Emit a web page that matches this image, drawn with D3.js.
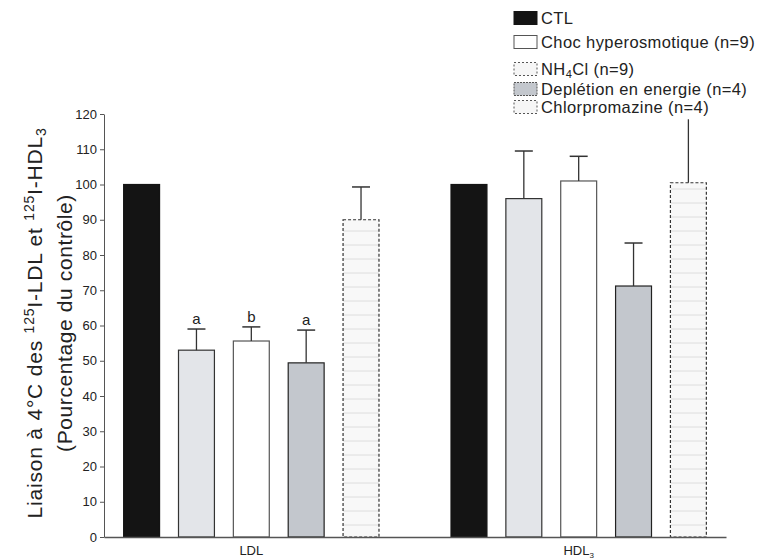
<!DOCTYPE html>
<html>
<head>
<meta charset="utf-8">
<script src="https://cdn.jsdelivr.net/npm/d3@7"></script>
<style>
  body { margin: 0; background: #fff; }
  svg { font-family: "Liberation Sans", Arial, sans-serif; }
  .axis text { font-size: 13px; fill: #222; }
  .axis path, .axis line { stroke: #555; }
</style>
</head>
<body>
<svg id="chart" width="764" height="559"></svg>
<script>
// data
const groups = ["LDL", "HDL3"];
const series = ["CTL", "Choc hyperosmotique (n=9)", "NH4Cl (n=9)", "Deplétion en energie (n=4)", "Chlorpromazine (n=4)"];
const ldlValues = [100, 53, 55.6, 49.4, 90];
const ldlErrors = [0, 6, 4, 9.3, 9.3];
const hdlValues = [100, 96, 101, 71.2, 100.5];
const hdlErrors = [0, 13.5, 7, 12.2, 18];
const ldlLetters = ["", "a", "b", "a", ""];
const hdlLetters = ["", "", "", "", ""];
const yTicks = [0, 10, 20, 30, 40, 50, 60, 70, 80, 90, 100, 110, 120];

const rows = [];
groups.forEach((g, gi) => {
  const vals = gi === 0 ? ldlValues : hdlValues;
  const errs = gi === 0 ? ldlErrors : hdlErrors;
  const lets = gi === 0 ? ldlLetters : hdlLetters;
  series.forEach((s, si) => rows.push({group: g, series: s, si: si, value: vals[si], err: errs[si], letter: lets[si]}));
});

// look of each bar, in drawing order
const barFill = ["#141414", "#e3e5e9", "#ffffff", "#c3c7cd", "#f7f7f7"];
const barStroke = ["#141414", "#333", "#555", "#222", "#333"];
const barDash = [null, null, null, null, "3,2"];
const legendFill = ["#141414", "#ffffff", "#f6f6f6", "#c3c7cd", "#f6f6f6"];
const legendDash = [null, null, "2,2", "2,1", "2,2"];

const svg = d3.select("#chart");
const defs = svg.append("defs");
const pat = defs.append("pattern")
  .attr("id", "hlines")
  .attr("patternUnits", "userSpaceOnUse")
  .attr("width", 36).attr("height", 14);
pat.append("rect").attr("width", 36).attr("height", 14).attr("fill", "#f8f8f8");
pat.append("line").attr("x1", 0).attr("x2", 36).attr("y1", 7).attr("y2", 7)
  .attr("stroke", "#d6d6d6").attr("stroke-width", 0.8);

const x0 = d3.scaleBand().domain(groups).range([104, 726]).paddingInner(0.22).paddingOuter(0.06);
const x1 = d3.scaleBand().domain(d3.range(series.length)).range([0, x0.bandwidth()]).paddingInner(0.345).paddingOuter(0);
const y = d3.scaleLinear().domain([0, 120]).range([537, 114]);

// y axis
svg.append("g")
  .attr("class", "axis")
  .attr("transform", "translate(104,0)")
  .call(d3.axisLeft(y).tickValues(yTicks).tickSize(4).tickSizeOuter(0).tickPadding(3));

// bars
const bars = svg.append("g").selectAll("g")
  .data(rows)
  .join("g")
  .attr("transform", d => `translate(${x0(d.group) + x1(d.si)},0)`);

bars.append("rect")
  .attr("x", 0)
  .attr("y", d => y(d.value))
  .attr("width", x1.bandwidth())
  .attr("height", d => y(0) - y(d.value))
  .attr("fill", d => d.si === 4 ? "url(#hlines)" : barFill[d.si])
  .attr("stroke", d => barStroke[d.si])
  .attr("stroke-width", 1.2)
  .attr("stroke-dasharray", d => barDash[d.si]);

const eb = bars.filter(d => d.err > 0);
eb.append("line")
  .attr("x1", x1.bandwidth() / 2).attr("x2", x1.bandwidth() / 2)
  .attr("y1", d => y(d.value)).attr("y2", d => y(d.value + d.err))
  .attr("stroke", "#333").attr("stroke-width", 1.3);
eb.filter(d => !(d.group === "HDL3" && d.si === 4)).append("line")
  .attr("x1", x1.bandwidth() / 2 - 9).attr("x2", x1.bandwidth() / 2 + 9)
  .attr("y1", d => y(d.value + d.err)).attr("y2", d => y(d.value + d.err))
  .attr("stroke", "#333").attr("stroke-width", 1.5);

bars.filter(d => d.letter).append("text")
  .attr("x", x1.bandwidth() / 2)
  .attr("y", d => y(d.value + d.err) - 5)
  .attr("text-anchor", "middle")
  .attr("font-size", 15)
  .attr("fill", "#222")
  .text(d => d.letter);

// x axis
const xAxis = svg.append("g")
  .attr("class", "axis")
  .attr("transform", `translate(0,${y(0)})`)
  .call(d3.axisBottom(x0).tickSize(0).tickSizeOuter(0).tickPadding(9));
xAxis.select(".domain").attr("stroke", "#444").attr("stroke-width", 1.3);
xAxis.selectAll(".tick text").attr("font-size", 11.5).each(function(d) {
  const t = d3.select(this);
  if (d === "HDL3") {
    t.text("HDL");
    t.append("tspan").attr("font-size", 8).attr("dy", 3).text("3");
  }
});

// y title
const title = svg.append("text")
  .attr("transform", "translate(42,323) rotate(-90)")
  .attr("text-anchor", "middle")
  .attr("font-size", 21)
  .attr("letter-spacing", 0.8)
  .attr("fill", "#222");
title.append("tspan").text("Liaison à 4°C des ");
title.append("tspan").attr("font-size", 14).attr("dy", -8).text("125");
title.append("tspan").attr("dy", 8).text("I-LDL et ");
title.append("tspan").attr("font-size", 14).attr("dy", -8).text("125");
title.append("tspan").attr("dy", 8).text("I-HDL");
title.append("tspan").attr("font-size", 14).attr("dy", 4).text("3");

svg.append("text")
  .attr("transform", "translate(72,323) rotate(-90)")
  .attr("text-anchor", "middle")
  .attr("font-size", 21)
  .attr("letter-spacing", 0.6)
  .attr("fill", "#222")
  .text("(Pourcentage du contrôle)");

// legend
const legendY = [18, 42, 69, 89, 107];
const legend = svg.append("g").selectAll("g")
  .data(series)
  .join("g")
  .attr("transform", (d, i) => `translate(514,${legendY[i]})`);

legend.append("rect")
  .attr("x", 0).attr("y", -6.5)
  .attr("width", 23).attr("height", 13)
  .attr("fill", (d, i) => legendFill[i])
  .attr("stroke", (d, i) => i === 0 ? "#141414" : "#555")
  .attr("stroke-width", 1)
  .attr("stroke-dasharray", (d, i) => legendDash[i]);

legend.append("text")
  .attr("x", 27).attr("y", 6)
  .attr("font-size", 16.5)
  .attr("letter-spacing", 0.4)
  .attr("fill", "#222")
  .each(function(d) {
    const t = d3.select(this);
    if (d.startsWith("NH4Cl")) {
      t.append("tspan").text("NH");
      t.append("tspan").attr("font-size", 11).attr("dy", 3).text("4");
      t.append("tspan").attr("dy", -3).text("Cl (n=9)");
    } else {
      t.text(d);
    }
  });
</script>
</body>
</html>
